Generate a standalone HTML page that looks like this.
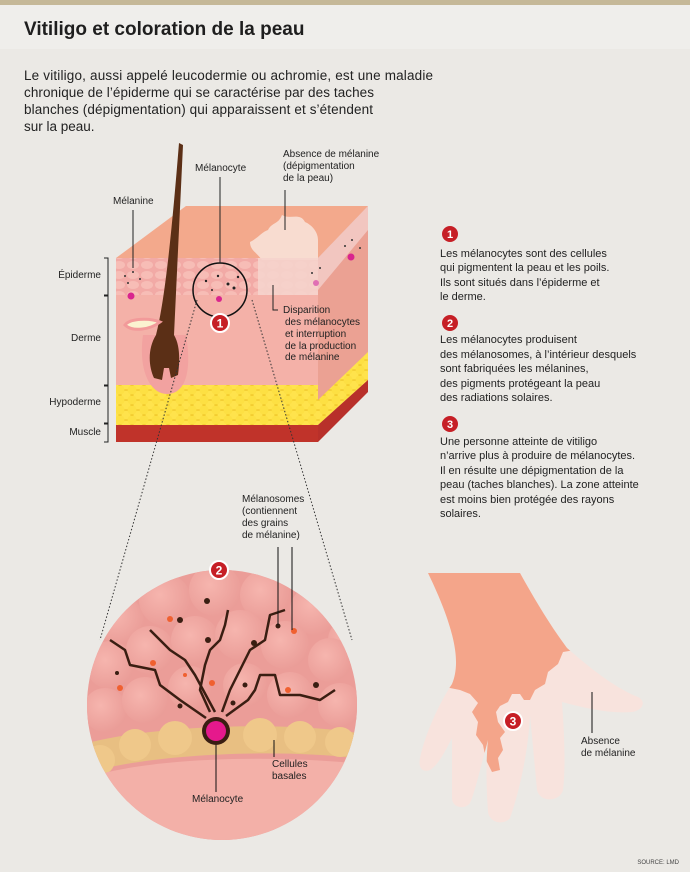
<!DOCTYPE html>
<html><head><meta charset="utf-8"><style>
html,body{margin:0;padding:0;background:#ebe9e5}
svg{display:block}
text{font-family:"Liberation Sans Narrow","Liberation Sans",sans-serif;fill:#222}
</style></head><body>
<svg width="690" height="872" viewBox="0 0 690 872" xmlns="http://www.w3.org/2000/svg">
<defs>
<radialGradient id="cell" cx="0.4" cy="0.4" r="0.7"><stop offset="0" stop-color="#f6b5ae"/><stop offset="1" stop-color="#e99a95"/></radialGradient>
<clipPath id="bigc"><circle cx="222" cy="705" r="135"/></clipPath>
<clipPath id="handc"><path d="M428,573 L520,573 C535,600 550,625 567,648 C590,668 615,688 638,697 C646,701 644,710 632,712 C610,714 585,708 562,702 C564,730 566,765 563,790 C560,802 540,803 537,790 L530,715 C528,760 515,805 510,818 C505,825 490,824 488,812 C486,785 486,760 488,740 C480,770 474,795 470,803 C465,810 452,808 452,798 C452,775 452,755 452,738 C445,752 438,765 430,770 C422,773 418,767 420,758 C425,735 438,705 452,684 C460,665 458,635 428,573 Z"/></clipPath>
<pattern id="fat" width="12" height="10" patternUnits="userSpaceOnUse"><rect width="12" height="10" fill="#e9b91c"/><circle cx="6" cy="5" r="4.6" fill="#ffe34c"/><circle cx="0" cy="0" r="4.6" fill="#fde043"/><circle cx="12" cy="0" r="4.6" fill="#fde043"/><circle cx="0" cy="10" r="4.6" fill="#fde043"/><circle cx="12" cy="10" r="4.6" fill="#fde043"/></pattern>
<pattern id="epi" width="14" height="10" patternUnits="userSpaceOnUse"><rect width="14" height="10" fill="#f2aaa6"/><ellipse cx="7" cy="5" rx="6" ry="4" fill="#f7bdb6"/></pattern>
</defs>
<rect width="690" height="872" fill="#ebe9e5"/>
<rect width="690" height="5" fill="#c5b898"/>
<rect y="5" width="690" height="44" fill="#efeeeb"/>
<text x="24" y="35" style="font-family:'Liberation Sans',sans-serif;font-weight:bold;font-size:19px;fill:#1e1e1e">Vitiligo et coloration de la peau</text>
<g style="font-family:'Liberation Sans',sans-serif;font-size:13.5px">
<text x="24" y="80" textLength="409" style="font-family:'Liberation Sans',sans-serif">Le vitiligo, aussi appelé leucodermie ou achromie, est une maladie</text>
<text x="24" y="97" textLength="350" style="font-family:'Liberation Sans',sans-serif">chronique de l’épiderme qui se caractérise par des taches</text>
<text x="24" y="114" textLength="349" style="font-family:'Liberation Sans',sans-serif">blanches (dépigmentation) qui apparaissent et s’étendent</text>
<text x="24" y="131" style="font-family:'Liberation Sans',sans-serif">sur la peau.</text>
</g>

<!-- skin block -->
<polygon points="116,258 186,206 368,206 318,258" fill="#f3a98c"/>
<polygon points="318,258 368,206 368,380 318,442" fill="#eba193"/>
<polygon points="318,400 368,352 368,380 318,425" fill="url(#fat)"/>
<polygon points="318,425 368,380 368,392 318,442" fill="#b8302a"/>
<rect x="116" y="258" width="202" height="37" fill="url(#epi)"/>
<rect x="116" y="295" width="202" height="92" fill="#f4b1a8"/>
<rect x="116" y="385" width="202" height="40" fill="url(#fat)"/>
<rect x="116" y="425" width="202" height="17" fill="#c0332a"/>
<path d="M250,242 C258,238 262,232 268,230 C272,222 278,225 282,215 C290,220 300,212 305,222 C312,225 318,232 318,240 L318,260 L262,260 C256,252 250,250 250,242 Z" fill="#f8dcd0"/>
<rect x="258" y="258" width="60" height="37" fill="#f5d3cc" opacity="0.9"/>
<path d="M318,258 L368,206 L368,230 L318,290 Z" fill="#f2c6c0"/>
<path d="M143,335 C138,370 150,394 167,394 C186,394 192,370 186,335 Z" fill="#f2a2a0"/>
<path d="M179,143 L183,145 L174,335 C180,345 180,360 178,375 L171,378 L169,368 L164,368 L162,380 L154,378 C148,365 148,348 156,335 C165,300 172,230 179,143 Z" fill="#5b2f16"/>
<path d="M125,325 C130,318 150,318 160,322 C150,330 132,332 125,325Z" fill="#fbf2d0" stroke="#f29a9a" stroke-width="3"/>
<g fill="#333"><circle cx="125" cy="276" r="1"/><circle cx="133" cy="272" r="1"/><circle cx="140" cy="279" r="1"/><circle cx="128" cy="283" r="1"/><circle cx="345" cy="246" r="1"/><circle cx="352" cy="240" r="1"/><circle cx="360" cy="248" r="1"/><circle cx="312" cy="273" r="1"/><circle cx="320" cy="268" r="1"/></g>
<circle cx="131" cy="296" r="3.5" fill="#d9258e"/><circle cx="316" cy="283" r="3" fill="#e070b4"/><circle cx="351" cy="257" r="3.5" fill="#d9258e"/>
<circle cx="220" cy="290" r="27" fill="none" stroke="#111" stroke-width="1.5"/>
<g fill="#222"><circle cx="206" cy="281" r="1.2"/><circle cx="218" cy="276" r="1.2"/><circle cx="228" cy="284" r="1.5"/><circle cx="234" cy="288" r="1.5"/><circle cx="238" cy="277" r="1.2"/><circle cx="212" cy="290" r="1"/></g>
<circle cx="219" cy="299" r="3" fill="#d9258e"/>
<circle cx="220" cy="323" r="9" fill="#c61f26" stroke="#fff" stroke-width="2"/>
<text x="220" y="327.5" text-anchor="middle" style="font-family:'Liberation Sans',sans-serif;font-weight:bold;font-size:12px;fill:#fff">1</text>
<g style="font-size:10px"><text x="101" y="278" text-anchor="end">Épiderme</text><text x="101" y="341" text-anchor="end">Derme</text><text x="101" y="405" text-anchor="end">Hypoderme</text><text x="101" y="435" text-anchor="end">Muscle</text></g>
<g fill="none" stroke="#222" stroke-width="1"><path d="M104,258 h4 v37 h-4 M104,296 h4 v89 h-4 M104,386 h4 v37 h-4 M104,424 h4 v18 h-4"/>
<line x1="133" y1="210" x2="133" y2="268"/><line x1="220" y1="177" x2="220" y2="263"/><line x1="285" y1="190" x2="285" y2="230"/><path d="M273,285 v25 h5"/></g>
<g style="font-size:10px"><text x="113" y="204">Mélanine</text><text x="195" y="171">Mélanocyte</text>
<text x="283" y="157">Absence de mélanine</text><text x="283" y="169">(dépigmentation</text><text x="283" y="181">de la peau)</text>
<text x="283" y="313">Disparition</text><text x="285" y="325">des mélanocytes</text><text x="285" y="337">et interruption</text><text x="285" y="349">de la production</text><text x="285" y="360">de mélanine</text></g>
<g stroke="#333" stroke-width="1" stroke-dasharray="1.5,2"><line x1="197" y1="300" x2="100" y2="640"/><line x1="252" y1="300" x2="352" y2="640"/></g>

<g clip-path="url(#bigc)">
<rect x="80" y="560" width="290" height="300" fill="#eb9d98"/>
<g fill="url(#cell)">
<circle cx="120" cy="620" r="24"/><circle cx="165" cy="600" r="26"/><circle cx="215" cy="590" r="26"/><circle cx="265" cy="595" r="25"/><circle cx="315" cy="610" r="25"/><circle cx="350" cy="640" r="22"/>
<circle cx="110" cy="665" r="24"/><circle cx="150" cy="650" r="24"/><circle cx="195" cy="640" r="24"/><circle cx="240" cy="635" r="25"/><circle cx="285" cy="645" r="24"/><circle cx="330" cy="660" r="22"/>
<circle cx="105" cy="710" r="22"/><circle cx="145" cy="700" r="23"/><circle cx="190" cy="688" r="22"/><circle cx="245" cy="685" r="22"/><circle cx="290" cy="695" r="23"/><circle cx="340" cy="705" r="22"/>
</g>
<path d="M80,745 C150,725 290,720 370,735 L370,760 C290,748 150,752 80,775 Z" fill="#e8bf82"/>
<g fill="#efc88a"><circle cx="100" cy="760" r="15"/><circle cx="135" cy="745" r="16"/><circle cx="175" cy="738" r="17"/><circle cx="260" cy="735" r="17"/><circle cx="300" cy="737" r="16"/><circle cx="340" cy="742" r="15"/></g>
<path d="M80,780 C150,755 290,755 370,765 L370,860 L80,860 Z" fill="#f3b0a8"/>
<g fill="none" stroke="#3a1e12" stroke-width="2.5" stroke-linejoin="round">
<path d="M206,718 L180,700 L160,685 L155,670 L130,665 L125,650 L110,640"/>
<path d="M210,712 L200,690 L205,665 L210,650 L220,640 L225,625 L228,610"/>
<path d="M222,712 L230,690 L240,670 L250,650 L265,640 L270,615 L285,610"/>
<path d="M226,716 L248,700 L255,690 L260,675 L275,675 L280,695 L300,695 L320,700 L335,690"/>
<path d="M215,712 L195,675 L185,660 L170,650 L160,640 L150,630"/>
</g>
<g fill="#3a1e12"><circle cx="207" cy="601" r="3"/><circle cx="180" cy="620" r="3"/><circle cx="208" cy="640" r="3"/><circle cx="254" cy="643" r="3"/><circle cx="278" cy="626" r="2.5"/><circle cx="316" cy="685" r="3"/><circle cx="180" cy="706" r="2.5"/><circle cx="233" cy="703" r="2.5"/><circle cx="117" cy="673" r="2"/><circle cx="245" cy="685" r="2.5"/></g>
<g fill="#f06030"><circle cx="170" cy="619" r="3"/><circle cx="294" cy="631" r="3"/><circle cx="153" cy="663" r="3"/><circle cx="120" cy="688" r="3"/><circle cx="212" cy="683" r="3"/><circle cx="288" cy="690" r="3"/><circle cx="185" cy="675" r="2"/></g>
<circle cx="216" cy="731" r="14" fill="#3a1e12"/><circle cx="216" cy="731" r="10" fill="#e5198c"/>
</g>
<circle cx="219" cy="570" r="9" fill="#c61f26" stroke="#fff" stroke-width="2"/>
<text x="219" y="574.5" text-anchor="middle" style="font-family:'Liberation Sans',sans-serif;font-weight:bold;font-size:12px;fill:#fff">2</text>
<g stroke="#111" stroke-width="1"><line x1="278" y1="547" x2="278" y2="625"/><line x1="292" y1="547" x2="292" y2="630"/><line x1="216" y1="745" x2="216" y2="792"/><line x1="274" y1="740" x2="274" y2="757"/></g>
<g style="font-size:10px"><text x="242" y="502">Mélanosomes</text><text x="242" y="514">(contiennent</text><text x="242" y="526">des grains</text><text x="242" y="538">de mélanine)</text>
<text x="192" y="802">Mélanocyte</text><text x="272" y="767">Cellules</text><text x="272" y="779">basales</text></g>

<!-- hand -->
<g clip-path="url(#handc)">
<rect x="415" y="570" width="240" height="260" fill="#f8e3dd"/>
<path d="M415,570 L660,570 L575,650 L563,652 L558,664 L548,672 L545,684 L535,690 L530,700 L524,700 L520,694 L512,694 L508,702 L500,706 L496,712 L498,722 L505,732 L500,738 L503,750 L498,758 L500,770 L492,772 L486,760 L483,745 L476,735 L478,722 L472,712 L478,703 L470,694 L460,690 L450,688 L415,690 Z" fill="#f4a58a"/>
</g>
<circle cx="513" cy="721" r="9" fill="#c61f26" stroke="#fff" stroke-width="2"/>
<text x="513" y="725.5" text-anchor="middle" style="font-family:'Liberation Sans',sans-serif;font-weight:bold;font-size:12px;fill:#fff">3</text>
<line x1="592" y1="692" x2="592" y2="733" stroke="#111"/>
<g style="font-size:10px"><text x="581" y="744">Absence</text><text x="581" y="756">de mélanine</text></g>
<text x="679" y="864" text-anchor="end" style="font-size:6px;fill:#444">SOURCE: LMD</text>

<g style="font-size:11px">
<circle cx="450" cy="234" r="8" fill="#c61f26"/><text x="450" y="238" text-anchor="middle" style="font-family:'Liberation Sans',sans-serif;font-weight:bold;font-size:11px;fill:#fff">1</text>
<text x="440" y="257">Les mélanocytes sont des cellules</text><text x="440" y="271">qui pigmentent la peau et les poils.</text><text x="440" y="286">Ils sont situés dans l’épiderme et</text><text x="440" y="300">le derme.</text>
<circle cx="450" cy="323" r="8" fill="#c61f26"/><text x="450" y="327" text-anchor="middle" style="font-family:'Liberation Sans',sans-serif;font-weight:bold;font-size:11px;fill:#fff">2</text>
<text x="440" y="343">Les mélanocytes produisent</text><text x="440" y="358">des mélanosomes, à l’intérieur desquels</text><text x="440" y="372">sont fabriquées les mélanines,</text><text x="440" y="387">des pigments protégeant la peau</text><text x="440" y="401">des radiations solaires.</text>
<circle cx="450" cy="424" r="8" fill="#c61f26"/><text x="450" y="428" text-anchor="middle" style="font-family:'Liberation Sans',sans-serif;font-weight:bold;font-size:11px;fill:#fff">3</text>
<text x="440" y="445">Une personne atteinte de vitiligo</text><text x="440" y="459">n’arrive plus à produire de mélanocytes.</text><text x="440" y="474">Il en résulte une dépigmentation de la</text><text x="440" y="488">peau (taches blanches). La zone atteinte</text><text x="440" y="503">est moins bien protégée des rayons</text><text x="440" y="517">solaires.</text>
</g>
</svg>
</body></html>
